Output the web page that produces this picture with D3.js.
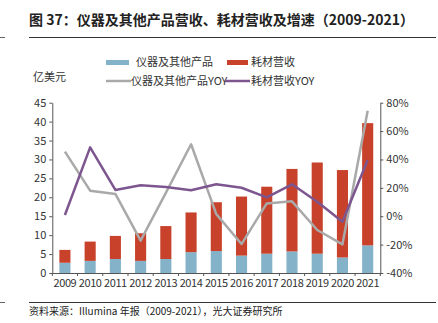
<!DOCTYPE html>
<html>
<head>
<meta charset="utf-8">
<script src="https://cdn.jsdelivr.net/npm/d3@7"></script>
<style>
  body { margin: 0; background: #fff; }
  text { font-family: "Noto Sans CJK SC", "Noto Sans", sans-serif; }
</style>
</head>
<body>
<script>
// data
let years = ["2009","2010","2011","2012","2013","2014","2015","2016","2017","2018","2019","2020","2021"];
let instruments = [2.7, 3.2, 3.7, 3.2, 3.7, 5.5, 5.8, 4.6, 5.1, 5.7, 5.1, 4.1, 7.3];
let consumables = [3.4, 5.1, 6.1, 7.3, 8.7, 10.5, 12.9, 15.6, 17.7, 21.8, 24.1, 23.1, 32.3];
let instrumentsYoy = [45.5, 18, 15.7, -17.2, 16.5, 50.7, 1.5, -19.6, 9, 10.5, -9.7, -19.8, 74.4];
let consumablesYoy = [0.9, 48.5, 18.5, 21.8, 20.6, 18.3, 22.5, 20.1, 13.3, 22.5, 10.2, -3.9, 39.6];
let leftTicks = [0, 5, 10, 15, 20, 25, 30, 35, 40, 45];
let rightTicks = [-40, -20, 0, 20, 40, 60, 80];

let width = 438, height = 323;
let blue = "#84b2c8", red = "#c8412a", gray = "#a9a9a9", purple = "#7d5690";
let axisColor = "#555";

let svg = d3.select("body").append("svg")
  .attr("width", width)
  .attr("height", height);

// frame lines and title
svg.append("text")
  .attr("x", 29).attr("y", 25)
  .attr("font-size", 14).attr("font-weight", "bold").attr("fill", "#222")
  .text("图 37：仪器及其他产品营收、耗材营收及增速（2009-2021）");
svg.append("line").attr("x1", 29).attr("x2", 436).attr("y1", 37.5).attr("y2", 37.5)
  .attr("stroke", "#333").attr("stroke-width", 1);
svg.append("line").attr("x1", 0).attr("x2", 5).attr("y1", 37.5).attr("y2", 37.5)
  .attr("stroke", "#666").attr("stroke-width", 1);
svg.append("line").attr("x1", 29).attr("x2", 436).attr("y1", 302.5).attr("y2", 302.5)
  .attr("stroke", "#333").attr("stroke-width", 1);
svg.append("line").attr("x1", 0).attr("x2", 5).attr("y1", 302.5).attr("y2", 302.5)
  .attr("stroke", "#666").attr("stroke-width", 1);
svg.append("text")
  .attr("x", 29).attr("y", 315)
  .attr("font-size", 10).attr("fill", "#222")
  .text("资料来源：Illumina 年报（2009-2021），光大证券研究所");

// scales
let x = d3.scaleBand().domain(years).range([52.3, 380.3]).paddingInner(0.56).paddingOuter(0.28);
let xPoint = d => x(d) + x.bandwidth() / 2;
let yLeft = d3.scaleLinear().domain([0, 45]).range([273, 102.7]);
let yRight = d3.scaleLinear().domain([-40, 80]).range([273, 102.7]);

// stacked bars
let stackData = years.map((y, i) => ({ year: y, instruments: instruments[i], consumables: consumables[i] }));
let series = d3.stack().keys(["instruments", "consumables"])(stackData);
let colors = { instruments: blue, consumables: red };

svg.append("g").selectAll("g")
  .data(series)
  .enter().append("g")
    .attr("fill", d => colors[d.key])
  .selectAll("rect")
  .data(d => d)
  .enter().append("rect")
    .attr("x", d => x(d.data.year))
    .attr("width", x.bandwidth())
    .attr("y", d => yLeft(d[1]))
    .attr("height", d => yLeft(d[0]) - yLeft(d[1]));

// yoy lines
let line = d3.line().x((d, i) => xPoint(years[i])).y(d => yRight(d));
svg.append("path").datum(instrumentsYoy)
  .attr("d", line).attr("fill", "none").attr("stroke", gray).attr("stroke-width", 2.5)
  .attr("stroke-linejoin", "round");
svg.append("path").datum(consumablesYoy)
  .attr("d", line).attr("fill", "none").attr("stroke", purple).attr("stroke-width", 2.5)
  .attr("stroke-linejoin", "round");

// axes
let tickFont = 11;
let gL = svg.append("g").attr("transform", "translate(52.3,0)")
  .call(d3.axisLeft(yLeft).tickValues(leftTicks).tickSize(3).tickSizeOuter(0).tickPadding(3));
let gR = svg.append("g").attr("transform", "translate(380.3,0)")
  .call(d3.axisRight(yRight).tickValues(rightTicks).tickSize(3).tickSizeOuter(0).tickPadding(3)
    .tickFormat(d => d + "%"));
let xBand = d3.scaleBand().domain(years).range([52.3, 380.3]);
let gX = svg.append("g").attr("transform", "translate(0,273)")
  .call(d3.axisBottom(xBand).tickSize(0).tickPadding(6));
// boundary ticks on x axis
svg.append("g").selectAll("line")
  .data(d3.range(years.length + 1))
  .enter().append("line")
    .attr("x1", i => 52.3 + i * xBand.step()).attr("x2", i => 52.3 + i * xBand.step())
    .attr("y1", 273).attr("y2", 276)
    .attr("stroke", axisColor);

[gL, gR, gX].forEach(g => {
  g.selectAll("path.domain").attr("stroke", axisColor);
  g.selectAll(".tick line").attr("stroke", axisColor);
  g.selectAll("text")
    .attr("font-family", "'Noto Sans CJK SC', sans-serif")
    .attr("font-size", tickFont).attr("fill", "#333");
});
gX.selectAll("text").attr("letter-spacing", "-0.4");

// unit label
svg.append("text").attr("x", 33).attr("y", 81)
  .attr("font-size", 11).attr("fill", "#333").text("亿美元");

// legend
let legend = svg.append("g").attr("font-size", 11).attr("fill", "#333");
legend.append("rect").attr("x", 106).attr("y", 60).attr("width", 23).attr("height", 5).attr("fill", blue);
legend.append("text").attr("x", 136).attr("y", 66).attr("fill", "#333").text("仪器及其他产品");
legend.append("rect").attr("x", 227).attr("y", 60).attr("width", 21).attr("height", 5).attr("fill", red);
legend.append("text").attr("x", 251).attr("y", 66).attr("fill", "#333").text("耗材营收");
legend.append("line").attr("x1", 106).attr("x2", 131).attr("y1", 81).attr("y2", 81)
  .attr("stroke", gray).attr("stroke-width", 2.5);
legend.append("text").attr("x", 131).attr("y", 85).attr("fill", "#333").text("仪器及其他产品YOY");
legend.append("line").attr("x1", 225).attr("x2", 250).attr("y1", 81).attr("y2", 81)
  .attr("stroke", purple).attr("stroke-width", 2.5);
legend.append("text").attr("x", 251).attr("y", 85).attr("fill", "#333").text("耗材营收YOY");
</script>
</body>
</html>
